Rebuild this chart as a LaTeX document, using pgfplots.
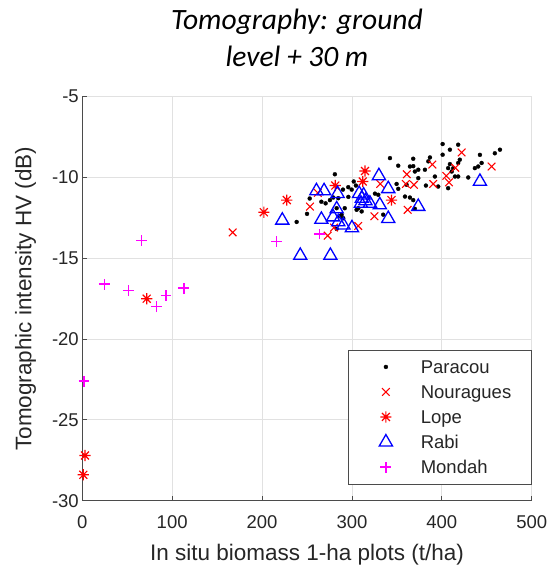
\documentclass[border=0pt]{standalone}
\usepackage{pgfplots}
\pgfplotsset{compat=1.18}
\usepackage{fontspec}
\setmainfont{Liberation Sans}
\newfontfamily\titlefont{Carlito}
\definecolor{axgray}{RGB}{75,75,75}
\definecolor{txtgray}{RGB}{38,38,38}
\definecolor{gridgray}{RGB}{225,225,225}
\definecolor{mblue}{RGB}{0,0,255}
\definecolor{mred}{RGB}{255,0,0}
\definecolor{mmag}{RGB}{255,0,255}
\pgfdeclareplotmark{matstar}{%
 \pgfpathmoveto{\pgfqpoint{-\pgfplotmarksize}{0pt}}\pgfpathlineto{\pgfqpoint{\pgfplotmarksize}{0pt}}%
 \pgfpathmoveto{\pgfqpoint{0pt}{-\pgfplotmarksize}}\pgfpathlineto{\pgfqpoint{0pt}{\pgfplotmarksize}}%
 \pgfpathmoveto{\pgfqpoint{-0.7071\pgfplotmarksize}{-0.7071\pgfplotmarksize}}\pgfpathlineto{\pgfqpoint{0.7071\pgfplotmarksize}{0.7071\pgfplotmarksize}}%
 \pgfpathmoveto{\pgfqpoint{-0.7071\pgfplotmarksize}{0.7071\pgfplotmarksize}}\pgfpathlineto{\pgfqpoint{0.7071\pgfplotmarksize}{-0.7071\pgfplotmarksize}}%
 \pgfusepathqstroke}
\pgfdeclareplotmark{matplus}{%
 \pgfpathmoveto{\pgfqpoint{-\pgfplotmarksize}{0pt}}\pgfpathlineto{\pgfqpoint{\pgfplotmarksize}{0pt}}%
 \pgfpathmoveto{\pgfqpoint{0pt}{-\pgfplotmarksize}}\pgfpathlineto{\pgfqpoint{0pt}{\pgfplotmarksize}}%
 \pgfusepathqstroke}
\begin{document}
\begin{tikzpicture}
\useasboundingbox (0,0) rectangle (548pt,567pt);
\node[anchor=base, font=\titlefont\itshape\fontsize{29.5}{30}\selectfont] at (297pt,537.3pt) {Tomography: ground};
\node[anchor=base, font=\titlefont\itshape\fontsize{29.5}{30}\selectfont] at (297pt,500.6pt) {level + 30 m};
\begin{axis}[
 at={(82.3pt,66.3pt)}, anchor=south west,
 scale only axis, width=449.4pt, height=404pt,
 xmin=0, xmax=500, ymin=-30, ymax=-5,
 clip=false,
 xtick={0,100,200,300,400,500}, ytick={-30,-25,-20,-15,-10,-5},
 xticklabels={0,100,200,300,400,500},
 yticklabels={-30,-25,-20,-15,-10,-5},
 axis x line*=bottom, axis y line*=left,
 axis line style={draw=axgray, line width=0.9pt, -},
 tick align=inside, major tick length=5pt,
 tick style={draw=axgray, line width=0.8pt},
 grid=major, major grid style={draw=gridgray, line width=0.8pt},
 ticklabel style={font=\fontsize{18.5}{18.5}\selectfont, text=txtgray},
 xticklabel style={yshift=-11pt},
 xlabel={In situ biomass 1-ha plots (t/ha)},
 ylabel={Tomographic intensity HV (dB)},
 every axis x label/.style={at={(axis description cs:0.5,-0.1485)}, anchor=base, font=\fontsize{22.5}{22.5}\selectfont, text=txtgray},
 every axis y label/.style={at={(axis description cs:-0.1135,0.5)}, anchor=base, rotate=90, font=\fontsize{22.5}{22.5}\selectfont, text=txtgray},
 legend cell align=left,
 legend image code/.code={\path (-17pt,0pt) (10pt,0pt); \draw[#1] plot coordinates {(0pt,0pt)};},
 legend style={at={(axis cs:500,-29)}, anchor=south east, draw=axgray, line width=0.8pt, fill=white,
   font=\fontsize{18.5}{18.5}\selectfont, text=txtgray, inner xsep=20pt, inner ysep=9.6pt, row sep=10.2pt,
   column sep=0pt, nodes={inner sep=0pt, text height=14pt, text depth=0.8pt},
   /tikz/every odd column/.append style={column sep=24.5pt}},
]
\addplot[only marks, mark=*, mark size=2pt, black, mark options={draw=black, fill=black, line width=0.3pt}] coordinates {
(238.5,-12.75) (250,-12.25) (253,-11.3) (266,-11.5) (270.7,-11.6) (275.5,-11.4) (279.2,-11.24) (284.8,-11.28) (281,-9.8) (288.5,-12.3) (283,-11.9) (286.7,-12.4) (283,-13.18) (290.3,-12.52) (290,-10.75) (295.9,-10.6) (296,-11.2) (299.7,-10.75) (302,-10.25) (304.4,-10.5) (292,-11.9) (305.2,-12.0) (307,-11.9) (310.8,-12.1) (325.6,-11.0) (329.3,-11.07) (334.8,-12.3) (342.3,-8.8) (351.5,-9.27) (349.7,-10.4) (351.5,-10.7) (359,-11.18) (360.8,-10.45) (364.5,-11.24) (368.2,-11.4) (370,-11.94) (368.2,-8.84) (364.5,-9.32) (368.2,-9.3) (370,-9.63) (373.8,-9.52) (373.8,-10.04) (381.2,-9.52) (382.3,-10.5) (386.8,-8.76) (385,-9.0) (392.3,-9.94) (396,-10.56) (400.9,-7.93) (400.9,-8.59) (409,-8.28) (418.2,-7.97) (407,-10.66) (409,-9.17) (407,-9.42) (412.7,-9.42) (411,-9.63) (414.6,-9.94) (418.2,-9.94) (418.2,-9.1) (420,-8.9) (429.4,-10.0) (436.8,-9.42) (440.5,-9.32) (444.3,-9.1) (442.4,-8.6) (459,-8.5) (464.7,-8.28)
};
\addlegendentry{Paracou}
\addplot[only marks, mark=x, mark size=5.4pt, mred, mark options={draw=mred, line width=1.1pt}] coordinates {
(167.3,-13.4) (253.3,-11.8) (262,-10.95) (273,-13.6) (280,-13.1) (307,-13.0) (325,-12.4) (331.5,-10.4) (361,-9.8) (360,-10.4) (369,-10.45) (362,-12.0) (389.5,-9.2) (390.4,-10.4) (405,-9.9) (408,-10.3) (415,-9.4) (422,-8.45) (455.4,-9.32)
};
\addlegendentry{Nouragues}
\addplot[only marks, mark=matstar, mark size=5.6pt, mred, mark options={draw=mred, line width=1.2pt}] coordinates {
(1.1,-28.4) (3,-27.2) (71.6,-17.5) (202,-12.15) (227.5,-11.4) (281.5,-10.5) (312,-10.25) (314.5,-9.6) (344,-11.4)
};
\addlegendentry{Lope}
\addplot[only marks, mark=triangle, mark size=7.6pt, mblue, mark options={draw=mblue, line width=1.3pt}] coordinates {
(222.5,-12.65) (242.5,-14.83) (276,-14.83) (260.5,-10.83) (269,-10.83) (284,-11.0) (283,-11.95) (266,-12.6) (279,-12.45) (284.8,-12.75) (290.5,-12.95) (300,-13.12) (308,-11.0) (311,-11.3) (313,-11.1) (315,-11.45) (310,-11.6) (320,-11.6) (330,-9.9) (340.4,-10.7) (331,-11.7) (340.4,-12.55) (373.8,-11.8) (442.4,-10.25)
};
\addlegendentry{Rabi}
\addplot[only marks, mark=matplus, mark size=5.4pt, color=mmag, mark options={draw=mmag, line width=1.4pt},
  legend image post style={color=mmag, draw=mmag}] coordinates {
(1.9,-22.6) (24.5,-16.6) (51.2,-17.0) (66,-13.9) (82.7,-18.0) (93.1,-17.3) (113,-16.85) (216,-13.95) (263.6,-13.5)
};
\addlegendentry{Mondah}
\end{axis}
\end{tikzpicture}
\end{document}
